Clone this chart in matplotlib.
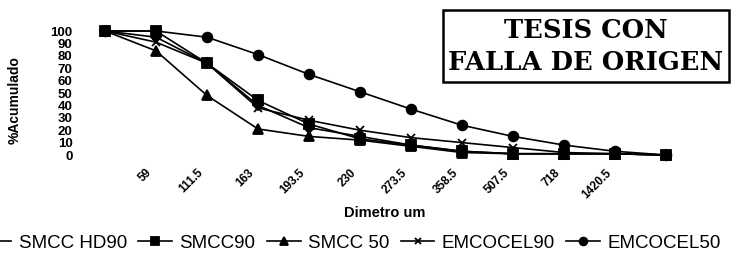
import matplotlib
matplotlib.use("Agg")
import matplotlib.pyplot as plt
import matplotlib.transforms as mtransforms
import numpy as np

categories = ["", "59", "111.5", "163", "193.5", "230", "273.5", "358.5",
              "507.5", "718", "1420.5", ""]
smcc_hd90 = [100, 95, 74, 40, 22, 15, 8, 3, 1, 1, 1, 0]
smcc90 = [100, 100, 74, 44, 25, 13, 8, 3, 1, 1, 1, 0]
smcc50 = [100, 84, 48, 21, 15, 12, 7, 2, 1, 1, 1, 0]
emcocel90 = [100, 91, 74, 38, 28, 20, 14, 10, 6, 2, 1, 0]
emcocel50 = [100, 100, 95, 81, 65, 51, 37, 24, 15, 8, 3, 0]
yticks = [0, 10, 20, 30, 40, 50, 60, 70, 80, 90, 100]

plt.rcParams['font.family'] = ['Liberation Sans', 'DejaVu Sans']

fig = plt.figure(figsize=(7.35, 2.61), dpi=100)
ax = fig.add_axes([79.5 / 735, 106 / 261, 612 / 735, 124 / 261])

x = np.arange(len(categories))
series = [
    (smcc_hd90, "SMCC HD90", "D", 5),
    (smcc90, "SMCC90", "s", 6.5),
    (smcc50, "SMCC 50", "^", 6.5),
    (emcocel90, "EMCOCEL90", "x", 6),
    (emcocel50, "EMCOCEL50", "o", 7),
]
for vals, lab, mk, ms in series:
    ax.plot(x, vals, color="black", lw=1.2, marker=mk, ms=ms, mew=1.3,
            label=lab, clip_on=False)

ax.set_xlim(-0.5, 11.5)
ax.set_ylim(0, 100)
ax.set_yticks(yticks)
ax.set_yticklabels([str(v) for v in yticks], fontsize=9.5, fontweight="bold")
ax.set_xticks(x)
ax.set_xticklabels(categories, rotation=45, ha="right", rotation_mode="anchor",
                   fontsize=8.5, fontweight="bold")
ax.tick_params(axis="both", length=0)
ax.tick_params(axis="y", pad=5)
ax.tick_params(axis="x", pad=8.5)
offset = mtransforms.ScaledTranslation(-10 / 100, 0, fig.dpi_scale_trans)
for lbl in ax.get_xticklabels():
    lbl.set_transform(lbl.get_transform() + offset)
for s in ax.spines.values():
    s.set_visible(False)

ax.set_ylabel("%Acumulado", fontsize=10, fontweight="bold")
ax.yaxis.set_label_coords((22 - 79.5) / 612, (155 - 100) / 124)
fig.text(385 / 735, 1 - 213 / 261, "Dimetro um", fontsize=10.5, fontweight="bold",
         ha="center", va="center")

leg = fig.legend(loc="center right", bbox_to_anchor=(1.004, 1 - 243 / 261),
                 ncol=5, frameon=False, fontsize=13.5, handlelength=1.8,
                 handletextpad=0.4, columnspacing=0.6, markerscale=0.8)

# stamp box
fig.patches.append(plt.Rectangle((443 / 735, 1 - 82 / 261), (729 - 443) / 735,
                                 72 / 261, transform=fig.transFigure,
                                 fill=False, lw=1.8, ec="black"))
fig.text(586 / 735, 1 - 31 / 261, "TESIS CON", family="DejaVu Serif",
         fontweight="bold", fontsize=18.5, ha="center", va="center")
fig.text(585 / 735, 1 - 62 / 261, "FALLA DE ORIGEN", family="DejaVu Serif",
         fontweight="bold", fontsize=18.5, ha="center", va="center")

fig.savefig("out.png", dpi=100)
